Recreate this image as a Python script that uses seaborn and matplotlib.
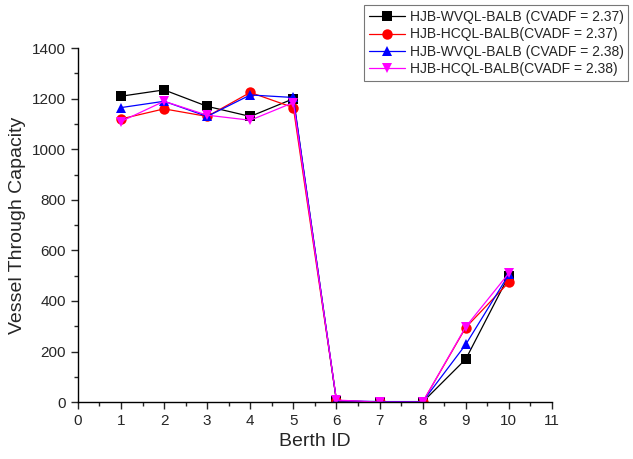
import numpy as np
import pandas as pd
import matplotlib
matplotlib.use("Agg")
import matplotlib.pyplot as plt
from matplotlib.ticker import MultipleLocator
import seaborn as sns

berth_ids = [1, 2, 3, 4, 5, 6, 7, 8, 9, 10]
wvql_237 = [1210, 1235, 1170, 1130, 1200, 5, 0, 0, 170, 500]
hcql_237 = [1120, 1160, 1130, 1225, 1165, 5, 0, 0, 295, 474]
wvql_238 = [1165, 1190, 1130, 1215, 1205, 5, 2, 2, 228, 505]
hcql_238 = [1110, 1190, 1135, 1115, 1185, 8, 0, 0, 298, 510]

series_names = [
    "HJB-WVQL-BALB (CVADF = 2.37)",
    "HJB-HCQL-BALB(CVADF = 2.37)",
    "HJB-WVQL-BALB (CVADF = 2.38)",
    "HJB-HCQL-BALB(CVADF = 2.38)",
]
colors = ["black", "red", "blue", "magenta"]
marker_list = ["s", "o", "^", "v"]

rows = []
for name, vals in zip(series_names, [wvql_237, hcql_237, wvql_238, hcql_238]):
    for b, v in zip(berth_ids, vals):
        rows.append({"Berth ID": b, "capacity": v, "series": name})
df = pd.DataFrame(rows)

sns.set_style("ticks")
plt.rcParams["font.family"] = ["Liberation Sans", "DejaVu Sans"]

fig = plt.figure(figsize=(6.33, 4.59), dpi=100)
ax = fig.add_axes([0.123, 0.124, 0.749, 0.771])

sns.lineplot(data=df, x="Berth ID", y="capacity", hue="series", style="series",
             hue_order=series_names, style_order=series_names,
             palette=dict(zip(series_names, colors)),
             markers=dict(zip(series_names, marker_list)), dashes=False,
             linewidth=0.9, markersize=7.5, markeredgewidth=0, ax=ax)

ax.set_xlim(0, 11)
ax.set_ylim(0, 1400)
ax.xaxis.set_major_locator(MultipleLocator(1))
ax.xaxis.set_minor_locator(MultipleLocator(0.5))
ax.yaxis.set_major_locator(MultipleLocator(200))
ax.yaxis.set_minor_locator(MultipleLocator(100))
ax.tick_params(which="major", direction="out", length=5, width=1, labelsize=11)
ax.tick_params(which="minor", direction="out", length=3, width=1)
sns.despine(ax=ax)
for s in ["left", "bottom"]:
    ax.spines[s].set_linewidth(1)
    ax.spines[s].set_color("black")

ax.set_xlabel("Berth ID", fontsize=14)
ax.set_ylabel("Vessel Through Capacity", fontsize=14)

handles, labels = ax.get_legend_handles_labels()
ax.get_legend().remove()
leg = fig.legend(handles, labels, loc="upper right", bbox_to_anchor=(0.997, 0.995),
                 fontsize=10, frameon=True, fancybox=False, handlelength=2.6,
                 borderpad=0.35, labelspacing=0.25, handletextpad=0.3,
                 borderaxespad=0.2)
leg.get_frame().set_edgecolor("#555555")
leg.get_frame().set_linewidth(0.8)

fig.savefig("out.png", dpi=100)
